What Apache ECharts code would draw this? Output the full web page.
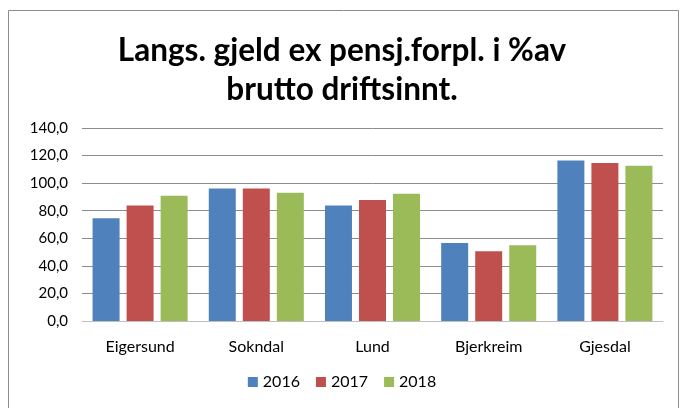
<!DOCTYPE html>
<html>
<head>
<meta charset="utf-8">
<script src="https://cdn.jsdelivr.net/npm/echarts@6/dist/echarts.min.js"></script>
<style>
  html, body { margin: 0; padding: 0; background: #fff; }
  #chart { width: 684px; height: 408px; }
</style>
</head>
<body>
<div id="chart"></div>
<script>
const categories = ['Eigersund', 'Sokndal', 'Lund', 'Bjerkreim', 'Gjesdal']
const years = ['2016', '2017', '2018']
const values2016 = [74.6, 96.2, 83.8, 56.5, 116.5]
const values2017 = [83.8, 96.2, 87.7, 50.6, 114.6]
const values2018 = [90.8, 93.0, 92.3, 55.0, 112.6]
const colors = ['#4F81BD', '#C0504D', '#9BBB59']

const font = 'Lato, "Open Sans", sans-serif'
const seriesData = [values2016, values2017, values2018]

const option = {
  animation: false,
  textStyle: { fontFamily: font },
  title: {
    text: 'Langs. gjeld ex pensj.forpl. i %av\nbrutto driftsinnt.',
    left: 'center',
    top: 26,
    textStyle: {
      fontFamily: font,
      fontSize: 31.5,
      fontWeight: 'bold',
      color: '#000',
      lineHeight: 39,
    },
  },
  grid: {
    left: 82,
    right: 21,
    top: 128,
    bottom: 87,
    containLabel: false,
  },
  legend: {
    data: years,
    bottom: 13,
    left: 'center',
    itemWidth: 10,
    itemHeight: 10,
    itemGap: 16,
    icon: 'rect',
    textStyle: { fontSize: 16, color: '#000', fontFamily: font },
  },
  xAxis: {
    type: 'category',
    data: categories,
    axisLine: { show: true, lineStyle: { color: '#bfbfbf', width: 1 } },
    axisTick: { show: false },
    axisLabel: { color: '#000', fontSize: 16, margin: 18, fontFamily: font },
  },
  yAxis: {
    type: 'value',
    min: 0,
    max: 140,
    interval: 20,
    axisLine: { show: false },
    axisTick: { show: false },
    axisLabel: {
      color: '#000',
      fontSize: 15,
      margin: 14,
      fontFamily: font,
      formatter: (v) => v.toFixed(1).replace('.', ','),
    },
    splitLine: { lineStyle: { color: '#8c8c8c', width: 1 } },
  },
  series: years.map((name, i) => ({
    name,
    type: 'bar',
    data: seriesData[i],
    barWidth: 27,
    barGap: '26%',
    itemStyle: { color: colors[i] },
  })),
  graphic: [
    {
      type: 'rect',
      shape: { x: 8.5, y: 10.5, width: 670, height: 420 },
      style: { fill: null, stroke: '#8c8c8c', lineWidth: 1 },
      silent: true,
    },
  ],
}

const myChart = echarts.init(document.getElementById('chart'))
myChart.setOption(option)
</script>
</body>
</html>
